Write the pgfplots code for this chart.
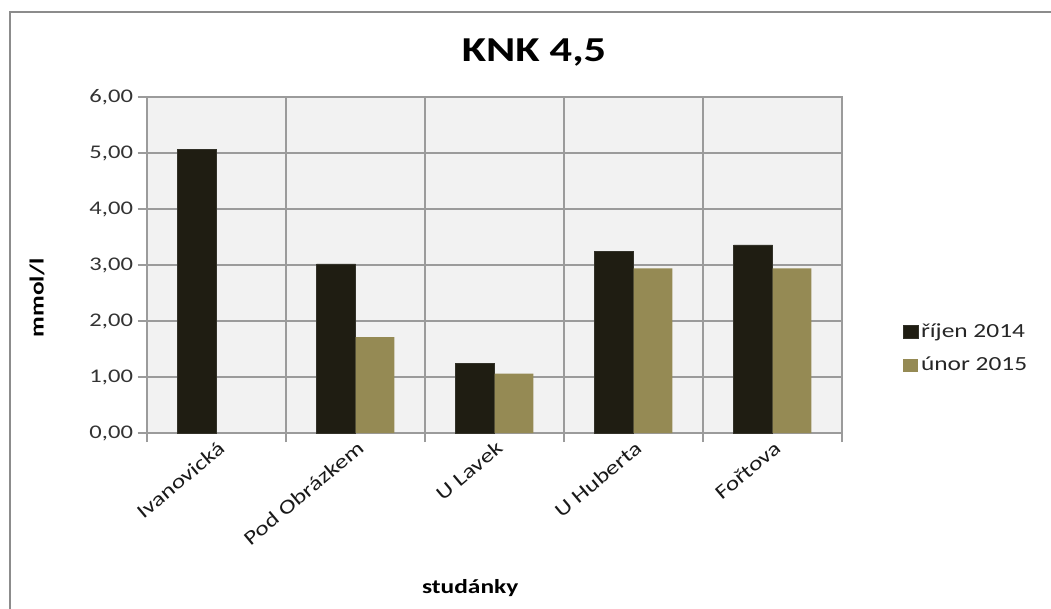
\documentclass[border=0pt]{standalone}
\usepackage{pgfplots}
\pgfplotsset{compat=1.18}
\usepackage{fontspec}
\setmainfont{Carlito}[FakeStretch=1.27]
\definecolor{darkbar}{RGB}{31,29,18}
\definecolor{olivebar}{RGB}{149,138,84}
\definecolor{plotbg}{RGB}{242,242,242}
\definecolor{gridc}{RGB}{155,155,155}
\definecolor{framec}{RGB}{140,140,140}
\begin{document}
\begin{tikzpicture}
\useasboundingbox (0,0) rectangle (788.25pt,456pt);
\draw[framec, line width=1.5pt] (7.5pt,-2pt) -- (7.5pt,447pt) -- (792pt,447pt);
\node[anchor=base, font=\fontsize{26.25}{30}\selectfont\bfseries] at (400.5pt,409.7pt) {KNK 4,5};
\begin{axis}[
 at={(110.25pt,131.25pt)}, anchor=south west,
 width=521.25pt, height=252pt, scale only axis,
 xmin=-0.5, xmax=4.5, ymin=0, ymax=6,
 ybar=0pt, bar width=0.28,
 axis background/.style={fill=plotbg},
 axis line style={gridc, line width=0.8pt},
 xtick={0,1,2,3,4},
 xticklabels={Ivanovická, Pod Obrázkem, U Lavek, U Huberta, Fořtova},
 major x tick style={draw=none},
 minor xtick={-0.5,0.5,...,4.5},
 xminorgrids=true, xmajorgrids=false, ymajorgrids=true,
 ytick={0,1,...,6},
 tick align=outside, tick pos=left,
 major tick length=7pt, minor tick length=6.75pt,
 tick style={gridc, line width=0.8pt},
 major grid style={gridc, line width=0.8pt},
 minor grid style={gridc, line width=0.8pt},
 /pgf/number format/assume math mode=true,
 yticklabel style={/pgf/number format/.cd, fixed, fixed zerofill, precision=2, use comma, /tikz/.cd, font=\fontsize{14.5}{17}\selectfont, text=black!80},
 xticklabel style={xshift=4pt, yshift=-2pt, rotate=40, anchor=east, inner sep=0pt, font=\fontsize{15}{18}\selectfont, text=black!90},
 xlabel={studánky}, ylabel={mmol/l},
 xlabel style={at={(axis description cs:0.465,-0.479)}, anchor=base, font=\fontsize{15}{18}\selectfont\bfseries},
 ylabel style={at={(axis description cs:-0.158,0.402)}, anchor=center, font=\fontsize{15}{18}\selectfont\bfseries},
 legend style={at={(axis description cs:1.179,0.2515)}, anchor=center, draw=none, fill=none, font=\fontsize{15}{18}\selectfont, text=black!85, row sep=9pt, legend cell align=left},
 legend image code/.code={\fill[#1] (0pt,-4.9pt) rectangle (11.25pt,4.9pt);},
]
\addplot[fill=darkbar, draw=darkbar!80!gray, line width=0.3pt] coordinates {(0,5.07) (1,3.02) (2,1.25) (3,3.24) (4,3.36)};
\addplot[fill=olivebar, draw=none] coordinates {(1,1.71) (2,1.06) (3,2.94) (4,2.94)};
\legend{říjen 2014, únor 2015}
\end{axis}
\end{tikzpicture}
\end{document}
